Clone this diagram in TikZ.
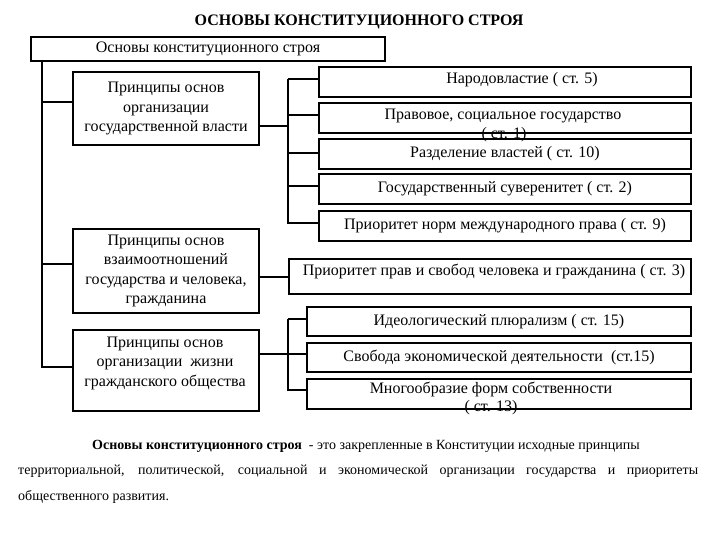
\documentclass[tikz,border=0pt]{standalone}
\usepackage{fontspec}
\setmainfont{Liberation Serif}
\begin{document}
\begin{tikzpicture}[x=1pt,y=-1pt,
  box/.style={draw, line width=2pt, inner sep=0pt, anchor=north west, align=center,
    font=\fontsize{16}{19.5}\selectfont},
  lbl/.style={inner sep=0pt, align=center, font=\fontsize{16}{19.5}\selectfont},
  note/.style={inner sep=0pt, anchor=west, font=\fontsize{14}{17}\selectfont},
  conn/.style={line width=2pt}]
\useasboundingbox (0,0) rectangle (720,540);
\node[lbl, font=\bfseries\fontsize{16}{19.5}\selectfont] (title) at (359,22) {ОСНОВЫ КОНСТИТУЦИОННОГО СТРОЯ};
\node[box, minimum width=354pt, minimum height=24pt] (top) at (30,36) {Основы конституционного строя};
% left column
\node[box, minimum width=186pt, minimum height=73pt] (b1) at (72,71) {Принципы основ\\организации\\государственной власти};
\node[box, minimum width=186pt, minimum height=84pt] (b2) at (72,228) {Принципы основ\\взаимоотношений\\государства и человека,\\гражданина};
\node[box, minimum width=186pt, minimum height=81pt] (b3) at (72,329) {};
\node[lbl] (b3t) at (165,363) {Принципы основ\\организации\ \ жизни\\гражданского общества};
% right column, upper group
\node[box, minimum width=372pt, minimum height=30pt] (r1) at (318,66) {};
\node[lbl] (r1t) at (522,80) {Народовластие ( ст. 5)};
\node[box, minimum width=372pt, minimum height=30pt] (r2) at (318,102) {};
\node[box, minimum width=372pt, minimum height=30pt] (r3) at (318,138) {Разделение властей ( ст. 10)};
\node[lbl] (r2t) at (503,116) {Правовое, социальное государство};
\node[lbl] (r2u) at (504,135) {( ст. 1)};
\node[box, minimum width=372pt, minimum height=30pt] (r4) at (318,173) {Государственный суверенитет ( ст. 2)};
\node[box, minimum width=372pt, minimum height=30pt] (r5) at (318,210) {Приоритет норм международного права ( ст. 9)};
% middle
\node[box, minimum width=402pt, minimum height=35pt] (p) at (288,258) {};
\node[lbl] (pt) at (494,271) {Приоритет прав и свобод человека и гражданина ( ст. 3)};
% lower group
\node[box, minimum width=384pt, minimum height=29pt] (m1) at (306,306) {Идеологический плюрализм ( ст. 15)};
\node[box, minimum width=384pt, minimum height=29pt] (m2) at (306,342) {Свобода экономической деятельности\ \ (ст.15)};
\node[box, minimum width=384pt, minimum height=30pt] (m3) at (306,378) {};
\node[lbl] (m3t) at (491,389) {Многообразие форм собственности};
\node[lbl] (m3u) at (491,408) {( ст. 13)};
% connectors
\coordinate (L) at (42,0);
\coordinate (R) at (288,0);
\draw[conn] (top.south -| L) |- ([yshift=3.5pt]b3.west);
\draw[conn] ([yshift=6.5pt]b1.west -| L) -- ([yshift=6.5pt]b1.west);
\draw[conn] ([yshift=7pt]b2.west -| L) -- ([yshift=7pt]b2.west);
\draw[conn] ([yshift=-17.5pt]b1.east) -- ([yshift=-17.5pt]b1.east -| R);
\draw[conn] ([yshift=3pt]r1.west -| R) |- ([yshift=3pt]r5.west);
\draw[conn] ([yshift=3pt]r1.west -| R) -- ([yshift=3pt]r1.west);
\draw[conn] ([yshift=3pt]r2.west -| R) -- ([yshift=3pt]r2.west);
\draw[conn] ([yshift=1pt]r3.west -| R) -- ([yshift=1pt]r3.west);
\draw[conn] ([yshift=3pt]r4.west -| R) -- ([yshift=3pt]r4.west);
\draw[conn] (p.west -| b2.east) -- (p.west);
\draw[conn] ([yshift=2.5pt]m1.west -| R) |- ([yshift=4pt]m3.west);
\draw[conn] ([yshift=2.5pt]m1.west -| R) -- ([yshift=2.5pt]m1.west);
\draw[conn] ([yshift=3.5pt]m2.west -| b3.east) -- ([yshift=3.5pt]m2.west);
% definition text
\node[note] (n1) at (92,446) {\textbf{Основы конституционного строя}\ \ - это закрепленные в Конституции исходные принципы};
\node[note] (n2) at (18,471) {\makebox[680pt][s]{территориальной, политической, социальной и экономической организации государства и приоритеты}};
\node[note] (n3) at (18,497) {общественного развития.};
\end{tikzpicture}
\end{document}
